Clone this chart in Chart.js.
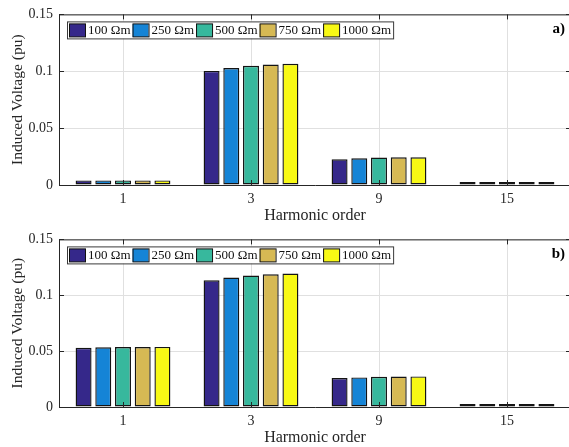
<!DOCTYPE html>
<html>
<head>
<meta charset="utf-8">
<script src="https://cdn.jsdelivr.net/npm/chart.js@4"></script>
<style>
  html, body { margin: 0; padding: 0; background: #fff; }
  #wrap { position: relative; width: 569px; height: 447px; overflow: hidden; }
  #wrap canvas { position: absolute; left: 0; }
</style>
</head>
<body>
<div id="wrap">
  <canvas id="panelA" width="575" height="225" style="top:0"></canvas>
  <canvas id="panelB" width="575" height="222" style="top:225px"></canvas>
</div>
<script>
const harmonics = ["1", "3", "9", "15"];
const soilLabels = ["100 Ωm", "250 Ωm", "500 Ωm", "750 Ωm", "1000 Ωm"];
const soilColors = ["#35288a", "#1584d6", "#37b89d", "#d6b954", "#f8f915"];

// panel a)
const a100  = [0.0040, 0.1003, 0.0226, 0.0026];
const a250  = [0.0040, 0.1028, 0.0235, 0.0026];
const a500  = [0.0040, 0.1048, 0.0241, 0.0026];
const a750  = [0.0040, 0.1059, 0.0243, 0.0026];
const a1000 = [0.0040, 0.1065, 0.0244, 0.0026];

// panel b)
const b100  = [0.0530, 0.1134, 0.0259, 0.0027];
const b250  = [0.0534, 0.1158, 0.0265, 0.0027];
const b500  = [0.0536, 0.1176, 0.0270, 0.0027];
const b750  = [0.0537, 0.1188, 0.0273, 0.0027];
const b1000 = [0.0538, 0.1194, 0.0274, 0.0027];

const yTicks = [0, 0.05, 0.1, 0.15];

const SERIF = "'Liberation Serif', 'Times New Roman', serif";
const AXIS = "#262626";
const GRID = "#e0e0e0";

// box round the axes, inward ticks, legend box and panel tag
const decorations = {
  id: "decorations",
  afterDatasetsDraw(chart, args, opts) {
    const { ctx, chartArea: ca, scales } = chart;
    ctx.save();
    ctx.strokeStyle = AXIS;
    ctx.lineWidth = 1;
    ctx.beginPath();
    ctx.moveTo(ca.left, ca.top + 0.5);
    ctx.lineTo(ca.right, ca.top + 0.5);
    ctx.moveTo(ca.right - 0.5, ca.top);
    ctx.lineTo(ca.right - 0.5, ca.bottom);
    // inward tick marks
    const tl = 5;
    scales.x.ticks.forEach((t, i) => {
      const x = Math.round(scales.x.getPixelForTick(i)) + 0.5;
      ctx.moveTo(x, ca.bottom); ctx.lineTo(x, ca.bottom - tl);
      ctx.moveTo(x, ca.top); ctx.lineTo(x, ca.top + tl);
    });
    scales.y.ticks.forEach((t, i) => {
      const y = Math.round(scales.y.getPixelForTick(i)) + 0.5;
      ctx.moveTo(ca.left, y); ctx.lineTo(ca.left + tl, y);
      ctx.moveTo(ca.right, y); ctx.lineTo(ca.right - tl, y);
    });
    ctx.stroke();

    // legend
    ctx.font = "13px " + SERIF;
    ctx.textBaseline = "middle";
    ctx.textAlign = "left";
    const sets = chart.data.datasets;
    const bx = ca.left + 8, by = ca.top + 7, bh = 17;
    let w = 2;
    sets.forEach(ds => { w += 16 + 3 + ctx.measureText(ds.label).width + 2; });
    ctx.fillStyle = "#fff";
    ctx.fillRect(bx, by, w, bh);
    ctx.strokeStyle = "#3a3a3a";
    ctx.strokeRect(bx + 0.5, by + 0.5, w, bh);
    let x = bx + 2;
    sets.forEach(ds => {
      ctx.fillStyle = ds.backgroundColor;
      ctx.fillRect(x, by + 2.5, 16, 13);
      ctx.strokeStyle = "#111";
      ctx.strokeRect(x + 0.5, by + 2.5, 16, 13);
      x += 19;
      ctx.fillStyle = "#111";
      ctx.fillText(ds.label, x, by + bh / 2 + 1);
      x += ctx.measureText(ds.label).width + 2;
    });

    // panel tag
    ctx.font = "bold 15px " + SERIF;
    ctx.textAlign = "right";
    ctx.fillStyle = "#000";
    ctx.fillText(opts.tag, 565, ca.top + 15);
    ctx.restore();
  }
};

function makePanel(id, series, tag, topPad) {
  return new Chart(document.getElementById(id).getContext("2d"), {
    type: "bar",
    data: {
      labels: harmonics,
      datasets: series.map((d, i) => ({
        label: soilLabels[i],
        data: d,
        backgroundColor: soilColors[i],
        borderColor: "#141414",
        borderWidth: 1.4,
        borderSkipped: false,
        categoryPercentage: 0.77,
        barPercentage: 0.81,
      }))
    },
    options: {
      responsive: false,
      animation: false,
      layout: { padding: { top: topPad, right: 4, left: 0, bottom: 0 } },
      plugins: {
        legend: { display: false },
        tooltip: { enabled: false },
        decorations: { tag: tag }
      },
      scales: {
        x: {
          grid: { offset: false, color: GRID, drawTicks: false },
          border: { color: AXIS, width: 1 },
          ticks: { padding: 6, color: AXIS, font: { family: SERIF, size: 14 } },
          title: {
            display: true, text: "Harmonic order", color: AXIS,
            font: { family: SERIF, size: 16 }, padding: 0
          },
          afterFit: s => { s.height = 40; }
        },
        y: {
          min: 0,
          max: 0.15,
          afterBuildTicks: s => { s.ticks = yTicks.map(v => ({ value: v })); },
          grid: { color: GRID, drawTicks: false },
          border: { color: AXIS, width: 1 },
          ticks: {
            padding: 6, color: AXIS, font: { family: SERIF, size: 14 },
            callback: v => String(+v.toFixed(2))
          },
          title: {
            display: true, text: "Induced Voltage (pu)", color: AXIS,
            font: { family: SERIF, size: 15.5 }, padding: { top: 9, bottom: 0 }
          },
          afterFit: s => { s.width = 59; }
        }
      }
    },
    plugins: [decorations]
  });
}

makePanel("panelA", [a100, a250, a500, a750, a1000], "a)", 8);
makePanel("panelB", [b100, b250, b500, b750, b1000], "b)", 14);
</script>
</body>
</html>
